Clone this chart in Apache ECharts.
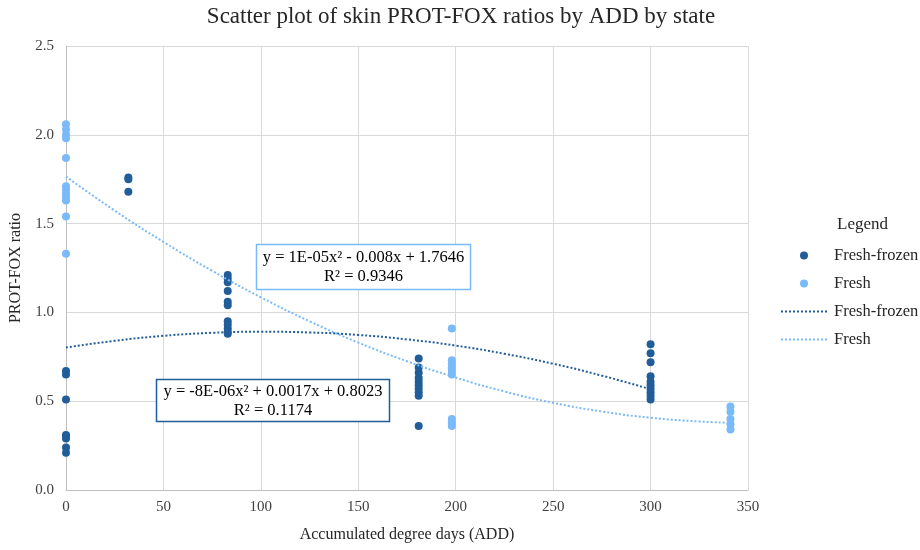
<!DOCTYPE html>
<html>
<head>
<meta charset="utf-8">
<script src="https://cdn.jsdelivr.net/npm/echarts@6/dist/echarts.min.js"></script>
<style>
  html, body { margin: 0; padding: 0; background: #fff; }
  #chart { width: 920px; height: 550px; }
</style>
</head>
<body>
<div id="chart"></div>
<script>
// ----- data -----
var xTicks = [0, 50, 100, 150, 200, 250, 300, 350];
var yTicks = [0, 0.5, 1.0, 1.5, 2.0, 2.5];

var frozenX = [0, 0, 0, 0, 0, 0, 0, 0,
  32, 32, 32,
  83, 83, 83, 83, 83, 83, 83, 83, 83, 83, 83,
  181, 181, 181, 181, 181, 181, 181, 181, 181, 181,
  300, 300, 300, 300, 300, 300, 300, 300, 300, 300];
var frozenY = [0.67, 0.65, 0.51, 0.31, 0.30, 0.29, 0.24, 0.21,
  1.76, 1.75, 1.68,
  1.21, 1.19, 1.17, 1.12, 1.06, 1.04, 0.95, 0.93, 0.91, 0.89, 0.88,
  0.74, 0.69, 0.66, 0.63, 0.61, 0.59, 0.57, 0.55, 0.53, 0.36,
  0.82, 0.77, 0.72, 0.64, 0.61, 0.59, 0.57, 0.55, 0.53, 0.51];

var freshX = [0, 0, 0, 0, 0, 0, 0, 0, 0, 0, 0, 0,
  198, 198, 198, 198, 198, 198, 198, 198, 198,
  341, 341, 341, 341, 341];
var freshY = [2.06, 2.03, 2.00, 1.98, 1.87, 1.71, 1.69, 1.67, 1.65, 1.63, 1.54, 1.33,
  0.91, 0.73, 0.71, 0.69, 0.67, 0.65, 0.40, 0.38, 0.36,
  0.47, 0.44, 0.40, 0.37, 0.34];

// trend curves
var frozenTrendX = [0, 25, 50, 75, 100, 125, 150, 175, 200, 225, 250, 275, 300];
var frozenTrendY = [0.802, 0.840, 0.868, 0.885, 0.891, 0.887, 0.873, 0.848, 0.813, 0.767, 0.711, 0.644, 0.567];
var freshTrendX = [0, 25, 50, 75, 100, 125, 150, 175, 200, 225, 250, 275, 300, 325, 341];
var freshTrendY = [1.765, 1.573, 1.397, 1.234, 1.085, 0.950, 0.830, 0.725, 0.633, 0.555, 0.491, 0.442, 0.407, 0.386, 0.378];

var freshEq = ['y = 1E-05x² - 0.008x + 1.7646', 'R² = 0.9346'];
var frozenEq = ['y = -8E-06x² + 0.0017x + 0.8023', 'R² = 0.1174'];

var dark = '#215e99';
var light = '#7abaf8';
var font = '"Liberation Serif", "Times New Roman", serif';

function pairs(xs, ys) {
  return xs.map(function(x, i) { return [x, ys[i]]; });
}

var chart = echarts.init(document.getElementById('chart'), null, { renderer: 'canvas' });
chart.setOption({
  animation: false,
  backgroundColor: '#fff',
  textStyle: { fontFamily: font },
  title: {
    text: 'Scatter plot of skin PROT-FOX ratios by ADD by state',
    left: 456, top: 0, textAlign: 'center',
    textStyle: { fontFamily: font, fontSize: 23, fontWeight: 'normal', color: '#262626' }
  },
  grid: { left: 65, right: 172, top: 46, bottom: 60 },
  legend: {
    orient: 'vertical',
    left: 775, top: 242,
    itemWidth: 46, itemHeight: 8, itemGap: 11,
    textStyle: { fontFamily: font, fontSize: 16.5, color: '#262626', padding: [0, 0, 0, 2] },
    data: [
      { name: 'Fresh-frozen' },
      { name: 'Fresh' },
      { name: 'Fresh-frozen ', itemStyle: { opacity: 0 } },
      { name: 'Fresh ', itemStyle: { opacity: 0 } }
    ]
  },
  xAxis: {
    type: 'value', min: 0, max: 350, interval: 50,
    name: 'Accumulated degree days (ADD)', nameLocation: 'middle', nameGap: 37,
    nameTextStyle: { fontFamily: font, fontSize: 16, color: '#262626' },
    axisLine: { show: true, onZero: false, lineStyle: { color: '#bfbfbf' } },
    axisTick: { show: false },
    axisLabel: { fontFamily: font, fontSize: 15, color: '#404040', margin: 10 },
    splitLine: { lineStyle: { color: '#d9d9d9' } }
  },
  yAxis: {
    type: 'value', min: 0, max: 2.5, interval: 0.5,
    name: 'PROT-FOX ratio', nameLocation: 'middle', nameGap: 42,
    nameTextStyle: { fontFamily: font, fontSize: 16, color: '#262626' },
    axisLine: { show: true, lineStyle: { color: '#bfbfbf' } },
    axisTick: { show: false },
    axisLabel: { fontFamily: font, fontSize: 15, color: '#404040', margin: 12,
      formatter: function(v) { return v.toFixed(1); } },
    splitLine: { lineStyle: { color: '#d9d9d9' } }
  },
  series: [
    { name: 'Fresh-frozen', type: 'scatter', symbolSize: 8,
      itemStyle: { color: dark, opacity: 1 }, data: pairs(frozenX, frozenY) },
    { name: 'Fresh', type: 'scatter', symbolSize: 8,
      itemStyle: { color: light, opacity: 1 }, data: pairs(freshX, freshY) },
    { name: 'Fresh-frozen ', type: 'line', smooth: true, symbol: 'none',
      lineStyle: { color: dark, width: 2, type: 'dotted' }, itemStyle: { color: dark },
      data: pairs(frozenTrendX, frozenTrendY), z: 3 },
    { name: 'Fresh ', type: 'line', smooth: true, symbol: 'none',
      lineStyle: { color: light, width: 2, type: 'dotted' }, itemStyle: { color: light },
      data: pairs(freshTrendX, freshTrendY), z: 3 }
  ],
  graphic: [
    { type: 'text', left: 837, top: 216,
      style: { text: 'Legend', font: '17px ' + font, fill: '#262626' } },
    { type: 'rect', shape: { x: 256.5, y: 244.5, width: 214, height: 45 }, z: 10,
      style: { fill: '#fff', stroke: light, lineWidth: 1.5 } },
    { type: 'text', x: 363.5, y: 248, z: 11,
      style: { text: freshEq.join('\n'), font: '16.5px ' + font, fill: '#000',
        align: 'center', lineHeight: 19 } },
    { type: 'rect', shape: { x: 156.5, y: 379.5, width: 233, height: 42 }, z: 10,
      style: { fill: '#fff', stroke: dark, lineWidth: 1.5 } },
    { type: 'text', x: 273, y: 382, z: 11,
      style: { text: frozenEq.join('\n'), font: '16.5px ' + font, fill: '#000',
        align: 'center', lineHeight: 19 } }
  ]
});
window.addEventListener('resize', function() { chart.resize(); });
</script>
</body>
</html>
